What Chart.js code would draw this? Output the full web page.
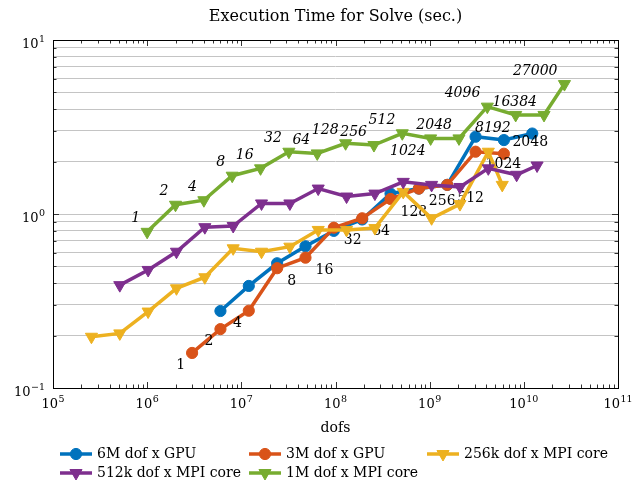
<!DOCTYPE html>
<html><head><meta charset="utf-8">
<script src="https://cdn.jsdelivr.net/npm/chart.js@4.4.0/dist/chart.umd.min.js"></script>
<style>html,body{margin:0;padding:0;background:#fff;}canvas{display:block;}</style>
</head><body>
<canvas id="c" width="636" height="481"></canvas>
<script>
// ---------- data ----------
const chartTitle = 'Execution Time for Solve (sec.)';
const xAxisTitle = 'dofs';
const seriesNames = ['6M dof x GPU', '3M dof x GPU', '256k dof x MPI core', '512k dof x MPI core', '1M dof x MPI core'];

const gpu6MDofs = [6e6, 1.2e7, 2.4e7, 4.8e7, 9.6e7, 1.92e8, 3.84e8, 7.68e8, 1.536e9, 3.072e9, 6.144e9, 1.2288e10];
const gpu6MTime = [0.277, 0.386, 0.521, 0.652, 0.80, 0.93, 1.31, 1.40, 1.47, 2.78, 2.66, 2.90];

const gpu3MDofs = [3e6, 6e6, 1.2e7, 2.4e7, 4.8e7, 9.6e7, 1.92e8, 3.84e8, 7.68e8, 1.536e9, 3.072e9, 6.144e9];
const gpu3MTime = [0.159, 0.218, 0.278, 0.488, 0.561, 0.834, 0.945, 1.22, 1.40, 1.47, 2.28, 2.22];

const cpu256kDofs = [2.56e5, 5.12e5, 1.024e6, 2.048e6, 4.096e6, 8.192e6, 1.6384e7, 3.2768e7, 6.5536e7, 1.31072e8, 2.62144e8, 5.24288e8, 1.048576e9, 2.097152e9, 4.194304e9, 5.9e9];
const cpu256kTime = [0.197, 0.206, 0.275, 0.374, 0.433, 0.635, 0.607, 0.649, 0.81, 0.81, 0.83, 1.34, 0.945, 1.14, 2.28, 1.47];

const cpu512kDofs = [5.12e5, 1.024e6, 2.048e6, 4.096e6, 8.192e6, 1.6384e7, 3.2768e7, 6.5536e7, 1.31072e8, 2.62144e8, 5.24288e8, 1.048576e9, 2.097152e9, 4.194304e9, 8.388608e9, 1.3824e10];
const cpu512kTime = [0.39, 0.477, 0.607, 0.84, 0.853, 1.15, 1.15, 1.40, 1.26, 1.31, 1.53, 1.47, 1.43, 1.83, 1.68, 1.90];

const cpu1MDofs = [1e6, 2e6, 4e6, 8e6, 1.6e7, 3.2e7, 6.4e7, 1.28e8, 2.56e8, 5.12e8, 1.024e9, 2.048e9, 4.096e9, 8.192e9, 1.6384e10, 2.7e10];
const cpu1MTime = [0.79, 1.13, 1.20, 1.66, 1.83, 2.28, 2.23, 2.55, 2.49, 2.91, 2.72, 2.72, 4.14, 3.71, 3.71, 5.58];

// point annotations (core / GPU counts)
const coreCountLabels = ['1', '2', '4', '8', '16', '32', '64', '128', '256', '512', '1024', '2048', '4096', '8192', '16384', '27000'];
const gpuCountLabels = ['1', '2', '4', '8', '16', '32', '64', '128', '256', '512', '1024'];
const gpuLastLabel = '2048';

const xTickExponents = [5, 6, 7, 8, 9, 10, 11];
const yTickExponents = [-1, 0, 1];

// ---------- styles / layout ----------
const colors = ['#0072BD', '#D95319', '#EDB120', '#7E2F8E', '#77AC30'];
const SERIF = '"DejaVu Serif", serif';
const coreLabelBelow = [10, 13];     // core-count labels placed below-left
const gpuLabelLeft = [0, 1, 2];      // gpu-count labels placed below-left

function tickValues(exps) {
  const out = [];
  for (let i = 0; i < exps.length - 1; i++) {
    for (let m = 1; m <= 9; m++) out.push(Number((m * Math.pow(10, exps[i])).toPrecision(12)));
  }
  out.push(Math.pow(10, exps[exps.length - 1]));
  return out;
}
function isPow10(v) { const l = Math.log10(v); return Math.abs(l - Math.round(l)) < 1e-9; }
function expText(v) { return String(Math.round(Math.log10(v))).replace('-', '\u2212'); }
function powLabel(v) { return isPow10(v) ? '10^' + expText(v) : ''; }

// draws "10" with a raised exponent; align: 'center' or 'right'
function drawPow(ctx, v, x, baseY, align) {
  const base = '10', ex = expText(v);
  ctx.font = '13px ' + SERIF;
  const wb = ctx.measureText(base).width;
  ctx.font = '9.5px ' + SERIF;
  const we = ctx.measureText(ex).width;
  const total = wb + 0.5 + we;
  const x0 = align === 'center' ? x - total / 2 : x - total;
  ctx.textAlign = 'left'; ctx.textBaseline = 'alphabetic';
  ctx.font = '13px ' + SERIF;
  ctx.fillText(base, x0, baseY);
  ctx.font = '9.5px ' + SERIF;
  ctx.fillText(ex, x0 + wb + 0.5, baseY - 6);
}

function mkSet(i, xs, ys, triangle, order) {
  return {
    label: seriesNames[i],
    data: xs.map((x, k) => ({x: x, y: ys[k]})),
    borderColor: colors[i], backgroundColor: colors[i],
    pointBackgroundColor: colors[i], pointBorderColor: colors[i],
    borderWidth: 3.5, tension: 0,
    pointStyle: triangle ? 'triangle' : 'circle',
    pointRotation: triangle ? 180 : 0,
    pointRadius: triangle ? 7 : 5.6,
    pointBorderWidth: 1,
    order: order, clip: false
  };
}

const framePlugin = {
  id: 'frame',
  afterDraw(chart) {
    const ctx = chart.ctx, a = chart.chartArea;
    const xs = chart.scales.x, ys = chart.scales.y;
    ctx.save();
    ctx.strokeStyle = '#333'; ctx.lineWidth = 1;
    ctx.beginPath();
    xs.ticks.forEach(t => {
      const px = Math.round(xs.getPixelForValue(t.value)) + 0.5;
      const len = isPow10(t.value) ? 6 : 3.5;
      ctx.moveTo(px, a.bottom); ctx.lineTo(px, a.bottom - len);
      ctx.moveTo(px, a.top); ctx.lineTo(px, a.top + len);
    });
    ys.ticks.forEach(t => {
      const py = Math.round(ys.getPixelForValue(t.value)) + 0.5;
      const len = isPow10(t.value) ? 6 : 3.5;
      ctx.moveTo(a.left, py); ctx.lineTo(a.left + len, py);
      ctx.moveTo(a.right, py); ctx.lineTo(a.right - len, py);
    });
    ctx.stroke();
    ctx.strokeStyle = '#000';
    ctx.strokeRect(Math.round(a.left) + 0.5, Math.round(a.top) + 0.5, Math.round(a.right - a.left), Math.round(a.bottom - a.top));
    // tick labels (powers of ten only)
    ctx.fillStyle = '#000';
    xs.ticks.forEach(t => {
      if (isPow10(t.value)) drawPow(ctx, t.value, xs.getPixelForValue(t.value), a.bottom + 20, 'center');
    });
    ys.ticks.forEach(t => {
      if (isPow10(t.value)) drawPow(ctx, t.value, a.left - 8, ys.getPixelForValue(t.value) + 8, 'right');
    });
    // title & axis title
    ctx.textAlign = 'center'; ctx.textBaseline = 'alphabetic';
    ctx.font = '16px ' + SERIF;
    ctx.fillText(chartTitle, (a.left + a.right) / 2, 21);
    ctx.font = '14px ' + SERIF;
    ctx.fillText(xAxisTitle, (a.left + a.right) / 2, 432);
    // legend
    const cols = [60, 249, 427], rows = [454, 473];
    const slots = [[0, 0], [1, 0], [2, 0], [0, 1], [1, 1]];
    chart.data.datasets.forEach((ds, i) => {
      const x0 = cols[slots[i][0]], y0 = rows[slots[i][1]];
      ctx.strokeStyle = ds.borderColor; ctx.lineWidth = 3.5;
      ctx.beginPath(); ctx.moveTo(x0, y0); ctx.lineTo(x0 + 32, y0); ctx.stroke();
      ctx.fillStyle = ds.borderColor; ctx.strokeStyle = ds.borderColor; ctx.lineWidth = 1;
      Chart.helpers.drawPoint(ctx, {pointStyle: ds.pointStyle, rotation: ds.pointRotation, radius: ds.pointRadius, borderWidth: 1}, x0 + 16, y0);
      ctx.fillStyle = '#000';
      ctx.textAlign = 'left'; ctx.textBaseline = 'middle';
      ctx.font = '14px ' + SERIF;
      ctx.fillText(ds.label, x0 + 37, y0 + 0.5);
    });
    ctx.restore();
  }
};

const labelPlugin = {
  id: 'pointLabels',
  afterDatasetDraw(chart, args) {
    const ctx = chart.ctx;
    const idx = args.index;
    ctx.save();
    ctx.fillStyle = '#000';
    ctx.textBaseline = 'middle';
    if (idx === 4) {
      const pts = chart.getDatasetMeta(4).data;
      ctx.font = 'italic 14px ' + SERIF;
      ctx.textAlign = 'right';
      coreCountLabels.forEach((t, k) => {
        const p = pts[k];
        if (coreLabelBelow.includes(k)) ctx.fillText(t, p.x - 5, p.y + 13);
        else ctx.fillText(t, p.x - 7, p.y - 13);
      });
    }
    if (idx === 1) {
      const pts = chart.getDatasetMeta(1).data;
      ctx.font = '14px ' + SERIF;
      gpuCountLabels.forEach((t, k) => {
        const p = pts[k];
        if (gpuLabelLeft.includes(k)) { ctx.textAlign = 'right'; ctx.fillText(t, p.x - 7, p.y + 12.5); }
        else { ctx.textAlign = 'left'; ctx.fillText(t, p.x + 10, p.y + 13); }
      });
    }
    if (idx === 0) {
      const pts = chart.getDatasetMeta(0).data;
      const p = pts[pts.length - 1];
      ctx.font = '14px ' + SERIF;
      ctx.textAlign = 'center';
      ctx.fillText(gpuLastLabel, p.x - 2, p.y + 9);
    }
    ctx.restore();
  }
};

const xTicks = tickValues(xTickExponents);
const yTicks = tickValues(yTickExponents);

new Chart(document.getElementById('c'), {
  type: 'line',
  data: {
    datasets: [
      mkSet(0, gpu6MDofs, gpu6MTime, false, 5),
      mkSet(1, gpu3MDofs, gpu3MTime, false, 4),
      mkSet(2, cpu256kDofs, cpu256kTime, true, 3),
      mkSet(3, cpu512kDofs, cpu512kTime, true, 2),
      mkSet(4, cpu1MDofs, cpu1MTime, true, 1)
    ]
  },
  options: {
    responsive: false, animation: false,
    layout: {padding: {top: 40, right: 18, left: 0, bottom: 0}},
    plugins: {legend: {display: false}, title: {display: false}, tooltip: {enabled: false}},
    scales: {
      x: {
        type: 'logarithmic', min: 1e5, max: 1e11, position: 'bottom',
        afterBuildTicks: s => { s.ticks = xTicks.map(v => ({value: v})); },
        afterFit: s => { s.height = 93; s.paddingLeft = 0; s.paddingRight = 0; },
        grid: {display: false, drawTicks: false},
        border: {display: false},
        ticks: {display: false, autoSkip: false, callback: v => powLabel(v)}
      },
      y: {
        type: 'logarithmic', min: 0.1, max: 10, position: 'left',
        afterBuildTicks: s => { s.ticks = yTicks.map(v => ({value: v})); },
        afterFit: s => { s.width = 53; s.paddingTop = 0; s.paddingBottom = 0; },
        grid: {color: '#c4c4c4', lineWidth: 1, drawTicks: false},
        border: {display: false},
        ticks: {display: false, autoSkip: false, callback: v => powLabel(v)}
      }
    }
  },
  plugins: [framePlugin, labelPlugin]
});
</script>
</body></html>
